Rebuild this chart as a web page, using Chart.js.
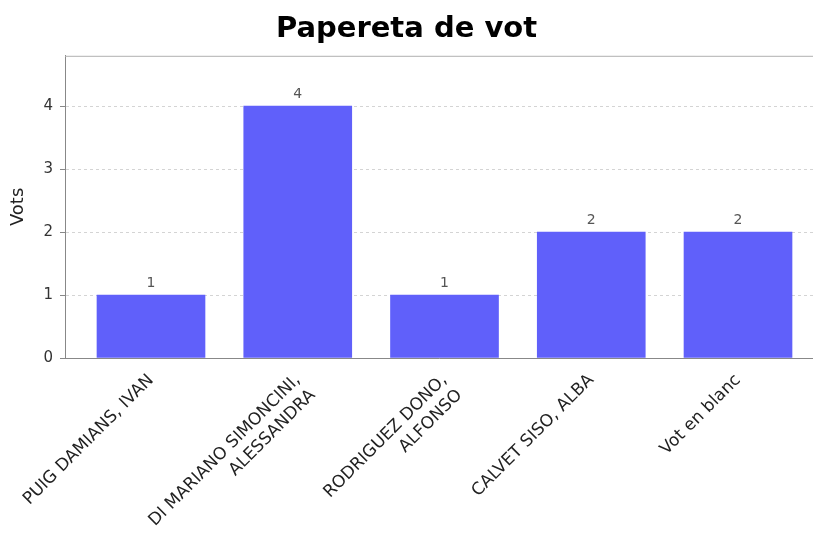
<!DOCTYPE html>
<html>
<head>
<meta charset="utf-8">
<script src="https://cdn.jsdelivr.net/npm/chart.js@4"></script>
<style>
  html, body { margin: 0; padding: 0; background: #fff; }
  #wrap { width: 813px; height: 541px; }
</style>
</head>
<body>
<div id="wrap"><canvas id="myChart"></canvas></div>
<script>
// chart data
const candidates = [
  ['PUIG DAMIANS, IVAN'],
  ['DI MARIANO SIMONCINI,', 'ALESSANDRA'],
  ['RODRIGUEZ DONO,', 'ALFONSO'],
  ['CALVET SISO, ALBA'],
  ['Vot en blanc']
];
const votes = [1, 4, 1, 2, 2];
const yTicks = [0, 1, 2, 3, 4];

// value labels above each bar
const valueLabels = {
  id: 'valueLabels',
  afterDatasetsDraw(chart) {
    const ctx = chart.ctx;
    const meta = chart.getDatasetMeta(0);
    ctx.save();
    ctx.font = '14px "DejaVu Sans"';
    ctx.fillStyle = '#555';
    ctx.textAlign = 'center';
    ctx.textBaseline = 'bottom';
    meta.data.forEach((bar, i) => {
      ctx.fillText(String(votes[i]), bar.x, bar.y - 5);
    });
    ctx.restore();
  }
};

// thin border on top of the plot
const topBorder = {
  id: 'topBorder',
  afterDraw(chart) {
    const a = chart.chartArea;
    const ctx = chart.ctx;
    ctx.save();
    ctx.strokeStyle = '#b0b0b0';
    ctx.lineWidth = 1;
    ctx.beginPath();
    ctx.moveTo(a.left, a.top + 0.5);
    ctx.lineTo(a.right, a.top + 0.5);
    ctx.stroke();
    ctx.restore();
  }
};

const ctx = document.getElementById('myChart');
new Chart(ctx, {
  type: 'bar',
  data: {
    datasets: [{
      data: votes.map((v, i) => ({ x: i, y: v })),
      backgroundColor: 'rgb(96, 96, 250)',
      barThickness: 108
    }]
  },
  options: {
    responsive: true,
    maintainAspectRatio: false,
    animation: false,
    layout: { padding: 0 },
    plugins: {
      legend: { display: false },
      tooltip: { enabled: false },
      title: {
        display: true,
        text: 'Papereta de vot',
        color: '#000',
        font: { family: 'DejaVu Sans', size: 29, weight: 'bold' },
        padding: { top: 12, bottom: 9 }
      }
    },
    scales: {
      x: {
        type: 'linear',
        min: -0.586,
        max: 4.511,
        offset: false,
        afterBuildTicks: (axis) => { axis.ticks = candidates.map((_, i) => ({ value: i })); },
        afterFit: (axis) => { axis.height = 183; },
        grid: { display: false },
        border: { display: true, color: '#888' },
        ticks: {
          autoSkip: false,
          maxRotation: 45,
          minRotation: 45,
          color: '#222',
          padding: 4,
          font: { family: 'DejaVu Sans', size: 17, lineHeight: 1.25 },
          callback: (v) => candidates[v] || ''
        }
      },
      y: {
        min: 0,
        max: 4.8,
        afterBuildTicks: (axis) => { axis.ticks = yTicks.map(v => ({ value: v })); },
        afterFit: (axis) => { axis.width = 65; },
        grid: { color: '#d4d4d4', tickLength: 5, tickColor: '#888' },
        border: { display: true, color: '#888', dash: [3, 3] },
        ticks: {
          color: '#333',
          padding: 7,
          font: { family: 'DejaVu Sans', size: 15 }
        },
        title: {
          display: true,
          text: 'Vots',
          color: '#222',
          font: { family: 'DejaVu Sans', size: 18 },
          padding: { top: 8, bottom: 0 }
        }
      }
    }
  },
  plugins: [valueLabels, topBorder]
});
</script>
</body>
</html>
